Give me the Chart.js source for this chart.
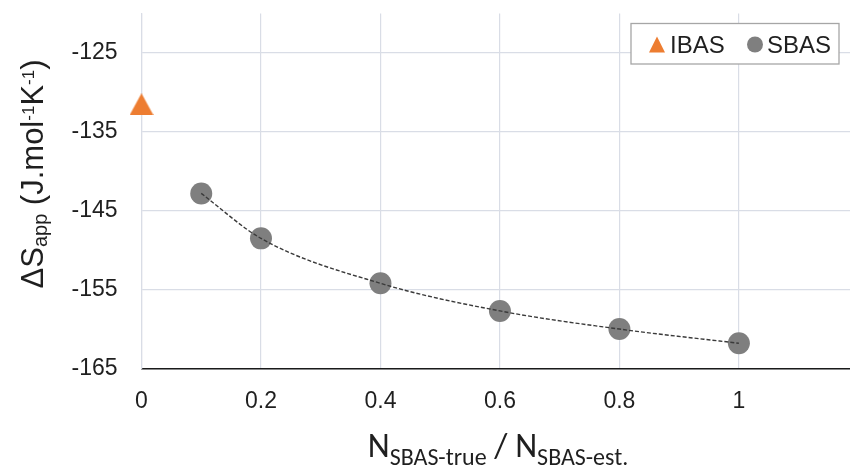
<!DOCTYPE html>
<html>
<head>
<meta charset="utf-8">
<script src="https://cdn.jsdelivr.net/npm/chart.js@4.4.1/dist/chart.umd.min.js"></script>
<style>
  html, body { margin: 0; padding: 0; background: #ffffff; }
  canvas { display: block; }
</style>
</head>
<body>
<canvas id="chart" width="850" height="475"></canvas>
<script>
// Tick positions
const xTicks = [0, 0.2, 0.4, 0.6, 0.8, 1];
const yTicks = [-165, -155, -145, -135, -125];

// IBAS value
const ibasX = [0];
const ibasY = [-131.5];

// SBAS values
const sbasX = [0.1, 0.2, 0.4, 0.6, 0.8, 1.0];
const sbasY = [-142.8, -148.5, -154.2, -157.7, -160.0, -161.8];

const seriesNames = ['IBAS', 'SBAS'];
const seriesColors = ['#ED7D31', '#7F7F7F'];

const gridColor = '#d9dde6';
const textColor = '#1f1f1f';
const sansFont = '"Liberation Sans", Arial, sans-serif';
const humanistFont = '"Carlito", "Open Sans", "Liberation Sans", sans-serif';

// Triangle marker as an image so that its bounding box is centred on the value
function makeTriangle(w, h, color) {
  const c = document.createElement('canvas');
  c.width = w; c.height = h;
  const g = c.getContext('2d');
  g.fillStyle = color;
  g.beginPath();
  g.moveTo(w / 2, 0);
  g.lineTo(w, h);
  g.lineTo(0, h);
  g.closePath();
  g.fill();
  return c;
}
const triangleMarker = makeTriangle(24, 22, seriesColors[0]);

const toPoints = (xs, ys) => xs.map((x, i) => ({ x: x, y: ys[i] }));

// Axis titles with sub/superscripts and the boxed legend
const decorations = {
  id: 'decorations',
  afterDraw(chart) {
    const ctx = chart.ctx;

    function drawRuns(runs, x, y, align) {
      let total = 0;
      runs.forEach(r => { ctx.font = r.font; r.w = ctx.measureText(r.text).width; total += r.w; });
      let cx = align === 'center' ? x - total / 2 : x;
      runs.forEach(r => {
        ctx.font = r.font;
        ctx.fillText(r.text, cx, y + (r.dy || 0));
        cx += r.w;
      });
    }

    ctx.save();
    ctx.fillStyle = textColor;
    ctx.textBaseline = 'alphabetic';
    ctx.textAlign = 'left';

    // y-axis title
    ctx.save();
    ctx.translate(43, 174);
    ctx.rotate(-Math.PI / 2);
    const big = '31px ' + sansFont;
    const small = '20px ' + sansFont;
    const sup = '17px ' + sansFont;
    drawRuns([
      { text: '\u0394S', font: big },
      { text: 'app', font: small, dy: 4 },
      { text: ' (J.mol', font: big },
      { text: '-1', font: sup, dy: -9 },
      { text: 'K', font: big },
      { text: '-1', font: sup, dy: -9 },
      { text: ')', font: big }
    ], 0, 0, 'center');
    ctx.restore();

    // x-axis title
    const nFont = '34px ' + humanistFont;
    const subFont = '24px ' + humanistFont;
    drawRuns([
      { text: 'N', font: nFont },
      { text: 'SBAS-true', font: subFont, dy: 8 },
      { text: ' / ', font: nFont },
      { text: 'N', font: nFont },
      { text: 'SBAS-est.', font: subFont, dy: 8 }
    ], 498, 457, 'center');

    // legend
    const bx = 631, by = 23.5, bw = 208, bh = 40.5;
    ctx.fillStyle = '#ffffff';
    ctx.fillRect(bx, by, bw, bh);
    ctx.strokeStyle = '#a6a6a6';
    ctx.lineWidth = 1.3;
    ctx.strokeRect(bx, by, bw, bh);

    ctx.font = '24px ' + sansFont;
    ctx.fillStyle = seriesColors[0];
    ctx.beginPath();
    ctx.moveTo(657, 36.5);
    ctx.lineTo(665, 52.5);
    ctx.lineTo(649, 52.5);
    ctx.closePath();
    ctx.fill();
    ctx.fillStyle = textColor;
    ctx.fillText(seriesNames[0], 670, 52.5);

    ctx.fillStyle = seriesColors[1];
    ctx.beginPath();
    ctx.arc(755, 44.5, 8, 0, Math.PI * 2);
    ctx.fill();
    ctx.fillStyle = textColor;
    ctx.fillText(seriesNames[1], 767, 52.5);

    ctx.restore();
  }
};

new Chart(document.getElementById('chart'), {
  type: 'scatter',
  data: {
    datasets: [
      {
        label: 'SBAS trend',
        data: toPoints(sbasX, sbasY),
        showLine: true,
        borderColor: '#3a3a3a',
        borderWidth: 1.4,
        borderDash: [4, 2],
        pointRadius: 0,
        pointHoverRadius: 0,
        cubicInterpolationMode: 'monotone',
        clip: false,
        order: 0
      },
      {
        label: seriesNames[1],
        data: toPoints(sbasX, sbasY),
        pointStyle: 'circle',
        pointRadius: 11,
        pointHoverRadius: 11,
        backgroundColor: seriesColors[1],
        borderWidth: 0,
        clip: false,
        order: 1
      },
      {
        label: seriesNames[0],
        data: toPoints(ibasX, ibasY),
        pointStyle: triangleMarker,
        pointRadius: 12,
        backgroundColor: seriesColors[0],
        borderWidth: 0,
        clip: false,
        order: 1
      }
    ]
  },
  options: {
    responsive: false,
    animation: false,
    events: [],
    layout: { autoPadding: false, padding: { top: 13.6, left: 0, right: 0, bottom: 0 } },
    plugins: {
      legend: { display: false },
      tooltip: { enabled: false },
      title: { display: false }
    },
    scales: {
      x: {
        type: 'linear',
        min: 0,
        max: 1.186,
        afterBuildTicks: s => { s.ticks = xTicks.map(v => ({ value: v })); },
        afterFit: s => { s.height = 106.5; s.paddingLeft = 0; s.paddingRight = 0; },
        grid: { color: gridColor, lineWidth: 1.2, drawTicks: false },
        border: { display: true, color: '#1a1a1a', width: 1.6 },
        ticks: {
          padding: 19,
          color: textColor,
          font: { family: sansFont, size: 23 },
          maxRotation: 0,
          callback: v => String(v)
        }
      },
      y: {
        type: 'linear',
        min: -165,
        max: -120,
        afterBuildTicks: s => { s.ticks = yTicks.map(v => ({ value: v })); },
        afterFit: s => { s.width = 141.5; s.paddingTop = 0; s.paddingBottom = 0; },
        grid: { color: gridColor, lineWidth: 1.2, drawTicks: false },
        border: { display: true, color: gridColor, width: 1.2 },
        ticks: {
          padding: 24,
          color: textColor,
          font: { family: sansFont, size: 23 },
          callback: v => String(v)
        }
      }
    }
  },
  plugins: [decorations]
});
</script>
</body>
</html>
